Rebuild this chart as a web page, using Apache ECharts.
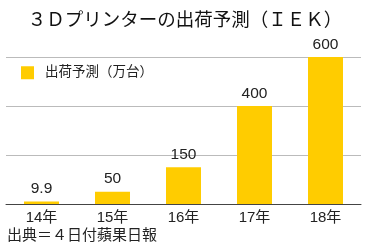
<!DOCTYPE html>
<html><head><meta charset="utf-8">
<script src="https://cdn.jsdelivr.net/npm/echarts@6/dist/echarts.min.js"></script>
<style>html,body{margin:0;padding:0;background:#fff}#c{width:370px;height:248px}</style>
</head><body><div id="c"></div>
<script>
const titleText = '３Ｄプリンターの出荷予測（ＩＥＫ）';
const sourceText = '出典＝４日付蘋果日報';
const seriesName = '出荷予測（万台）';
const categories = ['14年', '15年', '16年', '17年', '18年'];
const values = [9.9, 50, 150, 400, 600];
const labelTexts = ['9.9', '50', '150', '400', '600'];

const font = '"Liberation Sans", "Noto Sans CJK JP", sans-serif';
const chart = echarts.init(document.getElementById('c'), null, {renderer: 'canvas'});
chart.setOption({
  animation: false,
  backgroundColor: '#fff',
  title: {
    text: titleText, left: 'center', top: 7,
    textStyle: {fontFamily: font, fontSize: 18.5, fontWeight: 'normal', color: '#111'}
  },
  legend: {
    left: 16, top: 61, icon: 'rect', itemWidth: 13, itemHeight: 13,
    data: [seriesName],
    textStyle: {fontFamily: font, fontSize: 13.5, color: '#222', padding: [0, 0, 0, 6]}
  },
  grid: {left: 6, right: 9, top: 57, bottom: 44, containLabel: false},
  xAxis: {
    type: 'category', data: categories,
    axisLine: {lineStyle: {color: '#444', width: 1}},
    axisTick: {show: false},
    axisLabel: {fontFamily: font, fontSize: 15, color: '#222', margin: 6}
  },
  yAxis: {
    type: 'value', min: 0, max: 600, interval: 200,
    axisLabel: {show: false}, axisLine: {show: false}, axisTick: {show: false},
    splitLine: {lineStyle: {color: '#bbb', width: 1}}
  },
  graphic: [{
    type: 'text', left: 7, top: 228,
    style: {text: sourceText, font: '15px ' + font, fill: '#222'}
  }],
  series: [{
    name: seriesName, type: 'bar', data: values, barWidth: 35,
    itemStyle: {color: '#FFCC00'},
    label: {
      show: true, position: 'top', distance: 5,
      fontFamily: font, fontSize: 15.5, color: '#222',
      formatter: p => labelTexts[p.dataIndex]
    }
  }]
});
</script></body></html>
